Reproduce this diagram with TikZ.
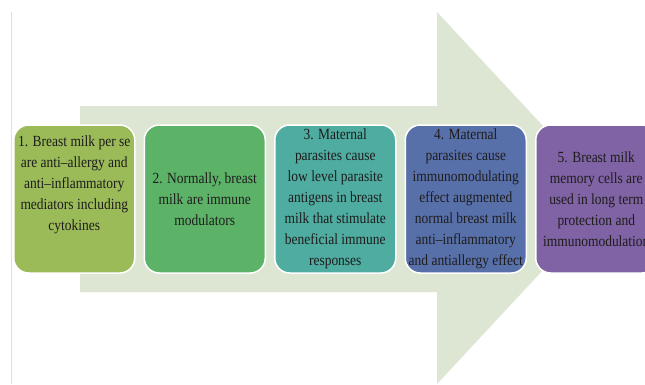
\documentclass[tikz,border=0pt]{standalone}
\usepackage{fontspec}
\setmainfont[FakeStretch=0.87]{Liberation Serif}
\usetikzlibrary{positioning}
\definecolor{flowBg}{RGB}{221,230,210}
\definecolor{stOlive}{RGB}{155,187,89}
\definecolor{stGreen}{RGB}{92,179,104}
\definecolor{stTeal}{RGB}{78,172,160}
\definecolor{stBlue}{RGB}{88,112,170}
\definecolor{stPurple}{RGB}{128,99,164}
\definecolor{stText}{RGB}{30,28,28}

\begin{document}
\begin{tikzpicture}[
    x=1pt,y=-1pt,
    stage/.style={draw=white,line width=1.5pt,rounded corners=15pt,minimum width=121pt,minimum height=148pt,
      inner sep=0pt,align=center,text=stText,font=\fontsize{15.5}{21}\selectfont},
    node distance=0pt and 8pt
  ]
    \clip (0,0) rectangle (645,384);
    \fill[white] (0,0) rectangle (645,384);
    % side rule and big background arrow
    \draw[black!12,line width=1pt] (11,12) -- (11,384);
    \fill[flowBg] (80,106) -- (437,106) -- (437,12) -- (610,198) -- (437,384) -- (437,292) -- (80,292) -- cycle;
    % stages
    \node[stage,fill=stOlive,anchor=west,text depth=31pt] (milk) at (13,199)
      {1. Breast milk per se\\are anti--allergy and\\anti--inflammatory\\mediators including\\cytokines};
    \node[stage,fill=stGreen,right=of milk] (normal)
      {2. Normally, breast\\milk are immune\\modulators};
    \node[stage,fill=stTeal,right=of normal] (antigen)
      {3. Maternal\\parasites cause\\low level parasite\\antigens in breast\\milk that stimulate\\beneficial immune\\responses};
    \node[stage,fill=stBlue,right=of antigen] (augment)
      {4. Maternal\\parasites cause\\immunomodulating\\effect augmented\\normal breast milk\\anti--inflammatory\\and antiallergy effect};
    \node[stage,fill=stPurple,right=of augment] (memory)
      {5. Breast milk\\memory cells are\\used in long term\\protection and\\immunomodulation};
\end{tikzpicture}
\end{document}
